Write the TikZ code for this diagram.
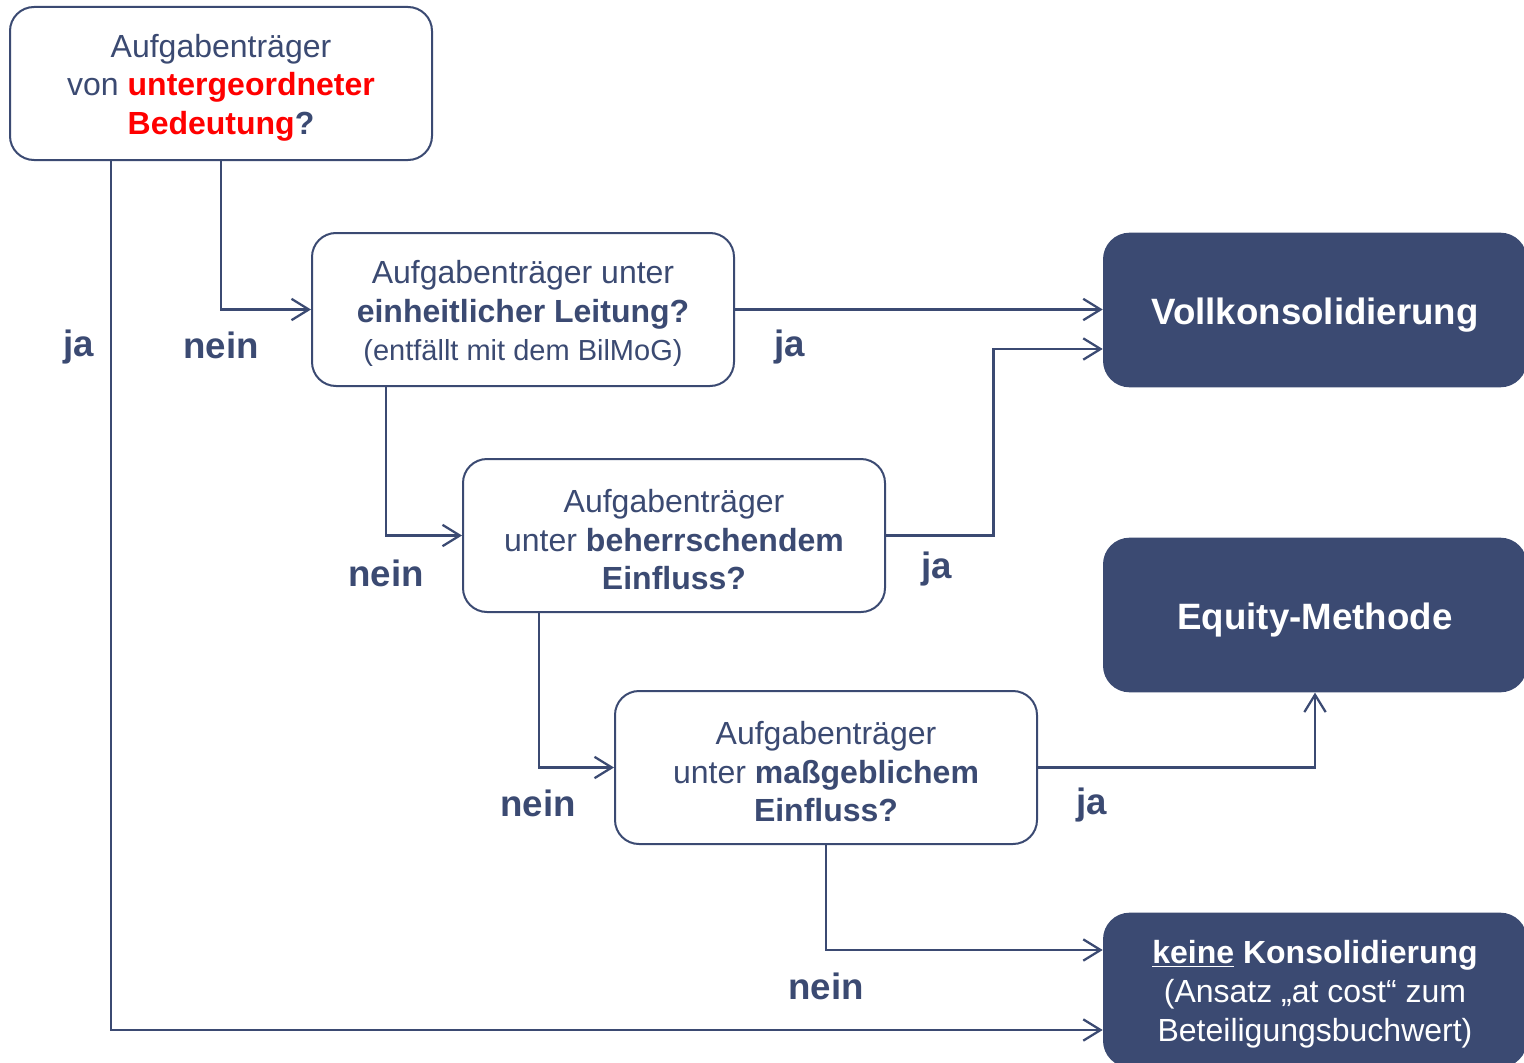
\documentclass[tikz,border=0pt]{standalone}
\usepackage{fontspec}
\setmainfont{Liberation Sans}
\usetikzlibrary{arrows.meta,calc}
\definecolor{navy}{HTML}{3B4A72}
\definecolor{hired}{HTML}{FF0000}
\newcommand{\tallfirst}{\rule{0pt}{23.5pt}}
\begin{document}
\begin{tikzpicture}[x=0.75pt,y=-0.75pt,
  qbox/.style={draw=navy,line width=1.5pt,fill=white,rounded corners=18pt,
    minimum width=316.5pt,minimum height=114.75pt,align=center,text=navy,
    inner sep=2pt,font=\fontsize{24}{29}\selectfont},
  rbox/.style={fill=navy,rounded corners=20pt,minimum width=318pt,minimum height=116pt,
    align=center,text=white,inner sep=2pt},
  arr/.style={draw=navy,line width=1.9pt,-{Straight Barb[length=13pt,width=16pt,line width=1.7pt]}},
  lbl/.style={text=navy,font=\fontsize{27.5}{33}\selectfont\bfseries,inner sep=0pt}]
\useasboundingbox (0,0) rectangle (1524,1063);
\node[qbox] (b1) at (221,83.5) {\tallfirst Aufgabenträger\\ von \textcolor{hired}{\bfseries untergeordneter}\\ \textcolor{hired}{\bfseries Bedeutung}\textbf{?}};
\node[qbox] (b2) at (523,309.5) {\tallfirst Aufgabenträger unter\\ \textbf{einheitlicher Leitung?}\\ {\fontsize{21.75}{28}\selectfont (entfällt mit dem BilMoG)}};
\node[qbox] (b3) at (674,535.5) {\tallfirst Aufgabenträger\\ unter \textbf{beherrschendem}\\ \textbf{Einfluss?}};
\node[qbox] (b4) at (826,767.5) {\tallfirst Aufgabenträger\\ unter \textbf{maßgeblichem}\\ \textbf{Einfluss?}};
\node[rbox,font=\fontsize{27.5}{33}\selectfont\bfseries] (d1) at (1315,310) {\rule{0pt}{27pt}Vollkonsolidierung};
\node[rbox,font=\fontsize{27.5}{33}\selectfont\bfseries] (d2) at (1315,615) {\rule{0pt}{27pt}Equity-Methode};
\node[rbox,font=\fontsize{24}{29}\selectfont] (d3) at (1315,990) {\tallfirst\textbf{\underline{keine} Konsolidierung}\\ (Ansatz „at cost“ zum\\ Beteiligungsbuchwert)};
% connectors
\draw[arr] (b1.south) |- (b2.west);
\draw[arr] ($(b1.south)+(-110,0)$) |- ($(d3.west)+(0,40)$);
\draw[arr] (b2.east) -- (b2.east -| d1.west);
\draw[arr] ($(b2.south)+(-137,0)$) |- (b3.west);
\draw[arr] (b3.east) -| ($(d1.west)+(-109,39)$) -- ($(d1.west)+(0,39)$);
\draw[arr] ($(b3.south)+(-135,0)$) |- (b4.west);
\draw[arr] (b4.east) -| (d2.south);
\draw[arr] (b4.south) |- ($(d3.west)+(0,-40)$);
% labels
\node[lbl] (l1) at (79,347) {ja};
\node[lbl] (l2) at (221,345) {nein};
\node[lbl] (l3) at (790,347) {ja};
\node[lbl] (l4) at (386,573) {nein};
\node[lbl] (l5) at (937,569) {ja};
\node[lbl] (l6) at (538,803) {nein};
\node[lbl] (l7) at (1092,805) {ja};
\node[lbl] (l8) at (826,986) {nein};
\end{tikzpicture}
\end{document}
